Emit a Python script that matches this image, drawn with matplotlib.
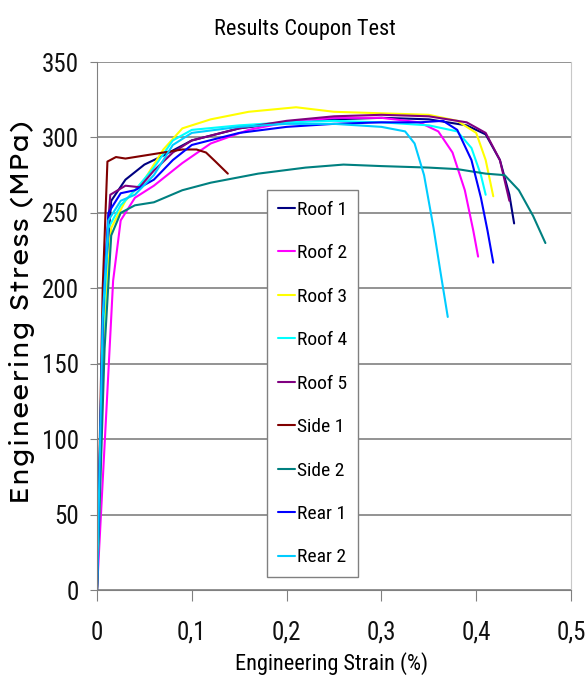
import matplotlib
matplotlib.use("Agg")
import matplotlib.pyplot as plt
from matplotlib.ticker import FuncFormatter
from matplotlib import font_manager as fm

_avail = set(f.name for f in fm.fontManager.ttflist)
_cands = ['Liberation Sans Narrow', 'Arial Narrow', 'Roboto Condensed', 'Archivo Narrow',
          'PT Sans Narrow', 'Open Sans Condensed', 'Liberation Sans']
NARROW = [c for c in _cands if c in _avail] + ['DejaVu Sans']
_wide = ['Lexend Exa', 'Lexend Giga', 'DejaVu Sans']
WIDE = [c for c in _wide if c in _avail] + ['DejaVu Sans']

title = "Results Coupon Test"
xlabel = "Engineering Strain (%)"
ylabel = "Engineering Stress (MPa)"

labels = ["Roof 1", "Roof 2", "Roof 3", "Roof 4", "Roof 5", "Side 1", "Side 2", "Rear 1", "Rear 2"]
colors = ["#000080", "#FF00FF", "#FFFF00", "#00FFFF", "#800080", "#800000", "#008080", "#0000FF", "#00CCFF"]

roof1_x = [0, 0.008, 0.015, 0.03, 0.05, 0.07, 0.1, 0.15, 0.2, 0.25, 0.3, 0.35, 0.39, 0.41, 0.425, 0.435, 0.44]
roof1_y = [0, 200, 258, 272, 282, 288, 298, 306, 310, 312, 313, 312, 308, 302, 285, 262, 243]

roof2_x = [0, 0.01, 0.017, 0.025, 0.04, 0.06, 0.09, 0.12, 0.16, 0.2, 0.25, 0.3, 0.34, 0.36, 0.375, 0.388, 0.397, 0.402]
roof2_y = [0, 120, 205, 245, 260, 268, 283, 296, 305, 310, 313, 313, 310, 304, 290, 265, 238, 221]

roof3_x = [0, 0.008, 0.015, 0.03, 0.05, 0.07, 0.09, 0.12, 0.16, 0.21, 0.25, 0.3, 0.35, 0.38, 0.4, 0.41, 0.418]
roof3_y = [0, 180, 240, 258, 272, 292, 306, 312, 317, 320, 317, 316, 315, 311, 303, 285, 261]

roof4_x = [0, 0.007, 0.012, 0.025, 0.04, 0.06, 0.08, 0.1, 0.15, 0.2, 0.25, 0.3, 0.35, 0.38, 0.395, 0.405, 0.41]
roof4_y = [0, 180, 240, 255, 265, 280, 298, 305, 308, 310, 311, 310, 308, 304, 293, 275, 262]

roof5_x = [0, 0.007, 0.014, 0.03, 0.045, 0.06, 0.08, 0.1, 0.15, 0.2, 0.25, 0.3, 0.35, 0.39, 0.41, 0.425, 0.435]
roof5_y = [0, 200, 262, 268, 267, 278, 290, 298, 306, 311, 314, 315, 314, 310, 303, 285, 258]

side1_x = [0, 0.006, 0.011, 0.02, 0.03, 0.05, 0.07, 0.09, 0.105, 0.115, 0.125, 0.138]
side1_y = [0, 200, 284, 287, 286, 288, 290, 292, 292, 290, 284, 276]

side2_x = [0, 0.008, 0.015, 0.025, 0.04, 0.06, 0.09, 0.12, 0.17, 0.22, 0.26, 0.3, 0.35, 0.38, 0.41, 0.43, 0.445, 0.46, 0.473]
side2_y = [0, 160, 235, 250, 255, 257, 265, 270, 276, 280, 282, 281, 280, 279, 276, 275, 265, 248, 230]

rear1_x = [0, 0.006, 0.012, 0.025, 0.04, 0.06, 0.08, 0.1, 0.15, 0.2, 0.25, 0.3, 0.34, 0.365, 0.38, 0.395, 0.405, 0.412, 0.418]
rear1_y = [0, 180, 250, 263, 265, 272, 285, 295, 303, 307, 309, 310, 310, 311, 305, 285, 260, 238, 217]

rear2_x = [0, 0.006, 0.012, 0.025, 0.04, 0.06, 0.08, 0.1, 0.15, 0.2, 0.25, 0.3, 0.325, 0.335, 0.345, 0.355, 0.362, 0.37]
rear2_y = [0, 180, 245, 258, 262, 275, 295, 303, 307, 309, 309, 307, 304, 296, 275, 240, 212, 181]

series = [(roof1_x, roof1_y), (roof2_x, roof2_y), (roof3_x, roof3_y), (roof4_x, roof4_y),
          (roof5_x, roof5_y), (side1_x, side1_y), (side2_x, side2_y), (rear1_x, rear1_y),
          (rear2_x, rear2_y)]

xticks = [0, 0.1, 0.2, 0.3, 0.4, 0.5]
yticks = [0, 50, 100, 150, 200, 250, 300, 350]

fig = plt.figure(figsize=(5.87, 6.9), dpi=100)
ax = fig.add_axes([97/587, 1-590/690, (571-97)/587, (590-62)/690])

for (x, y), c, lab in zip(series, colors, labels):
    ax.plot(x, y, color=c, lw=1.5, label=lab, solid_capstyle='round')

ax.set_xlim(0, 0.5)
ax.set_ylim(0, 350)
ax.set_xticks(xticks)
ax.set_yticks(yticks)
ax.xaxis.set_major_formatter(FuncFormatter(lambda v, p: ("%g" % v).replace('.', ',')))
ax.yaxis.set_major_formatter(FuncFormatter(lambda v, p: "%d" % v))
ax.grid(axis='y', color='#808080', lw=1.2)
ax.set_axisbelow(True)
ax.spines['top'].set_visible(False)
ax.spines['right'].set_color('#c8c8c8')
ax.spines['left'].set_color('#808080')
ax.spines['bottom'].set_color('#808080')
ax.tick_params(axis='x', direction='out', length=8, color='#808080', pad=14)
ax.tick_params(axis='y', direction='out', length=5, color='#808080', pad=8)
for lbl in ax.get_xticklabels() + ax.get_yticklabels():
    lbl.set_fontfamily(NARROW)
    lbl.set_fontsize(18)
    lbl.set_color('#111111')

fig.text(305/587, 1-30/690, title, ha='center', va='center', fontsize=16, family=NARROW)
fig.text(332/587, 1-664/690, xlabel, ha='center', va='center', fontsize=16, family=NARROW)
fig.text(22/587, 1-312/690, ylabel, ha='center', va='center', rotation=90, fontsize=18, family=WIDE)

leg = ax.legend(loc='upper left', bbox_to_anchor=(267/587, 1-190/690), bbox_transform=fig.transFigure,
                prop={'family': NARROW, 'size': 14}, frameon=True, fancybox=False,
                edgecolor='#808080', framealpha=1, handlelength=0.9, handletextpad=0.1,
                labelspacing=1.31, borderpad=0.55, borderaxespad=0)
leg.get_frame().set_linewidth(1.0)

fig.savefig("out.png", dpi=100)
